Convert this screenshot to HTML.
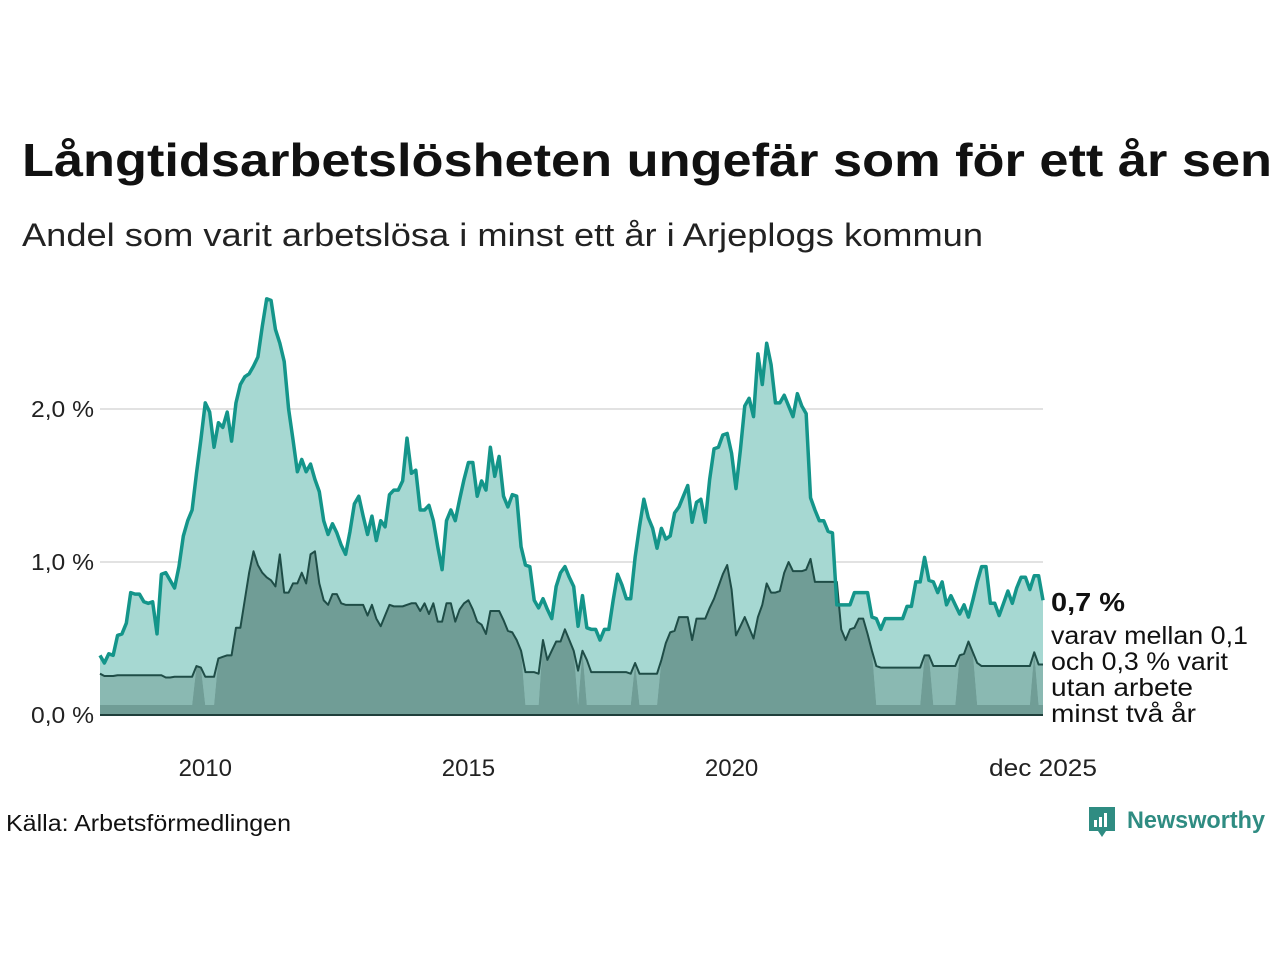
<!DOCTYPE html>
<html><head><meta charset="utf-8">
<style>
html,body{margin:0;padding:0;background:#fff;}
svg{display:block;font-family:"Liberation Sans",sans-serif;}
</style></head>
<body>
<svg id="chart" width="1280" height="960" viewBox="0 0 1280 960" xmlns="http://www.w3.org/2000/svg">
<text x="22" y="176" font-size="46" font-weight="bold" fill="#111" textLength="1250" lengthAdjust="spacingAndGlyphs">Långtidsarbetslösheten ungefär som för ett år sen</text>
<text x="22" y="246" font-size="32" fill="#222" textLength="961" lengthAdjust="spacingAndGlyphs">Andel som varit arbetslösa i minst ett år i Arjeplogs kommun</text>
<g id="grid"></g>
<g id="marks"></g>
<g id="axes"></g>
<text x="1051" y="611" font-size="26" font-weight="bold" fill="#111" textLength="74" lengthAdjust="spacingAndGlyphs">0,7 %</text>
<text font-size="25" fill="#111">
<tspan x="1051" y="644" textLength="197" lengthAdjust="spacingAndGlyphs">varav mellan 0,1</tspan>
<tspan x="1051" y="670" textLength="177" lengthAdjust="spacingAndGlyphs">och 0,3 % varit</tspan>
<tspan x="1051" y="696" textLength="142" lengthAdjust="spacingAndGlyphs">utan arbete</tspan>
<tspan x="1051" y="722" textLength="145" lengthAdjust="spacingAndGlyphs">minst två år</tspan>
</text>
<text x="6" y="831" font-size="23" fill="#111" textLength="285" lengthAdjust="spacingAndGlyphs">Källa: Arbetsförmedlingen</text>
<g>
<path d="M1089,807 h26 v24 h-9 l-4,6 l-4,-6 h-9 z" fill="#2f8c82"/>
<rect x="1094" y="820" width="3" height="7" fill="#fff"/>
<rect x="1099" y="817" width="3" height="10" fill="#fff"/>
<rect x="1104" y="813" width="3" height="14" fill="#fff"/>
<text x="1127" y="828" font-size="24" font-weight="bold" fill="#2f8c82" textLength="138" lengthAdjust="spacingAndGlyphs">Newsworthy</text>
</g>
</svg>
<script>
const tickValues=[0,1,2];
const tickLabels=["0,0 %","1,0 %","2,0 %"];
const xTickYears=[2010,2015,2020];
const xTickLabels=["2010","2015","2020"];
const total=[0.39,0.34,0.40,0.39,0.52,0.53,0.60,0.80,0.79,0.79,0.74,0.73,0.74,0.53,0.92,0.93,0.88,0.83,0.97,1.17,1.27,1.34,1.58,1.80,2.04,1.98,1.75,1.91,1.88,1.98,1.79,2.04,2.16,2.21,2.23,2.28,2.34,2.54,2.72,2.71,2.52,2.43,2.31,2.00,1.80,1.59,1.67,1.59,1.64,1.54,1.46,1.27,1.18,1.25,1.19,1.11,1.05,1.20,1.38,1.43,1.30,1.18,1.30,1.14,1.27,1.23,1.44,1.47,1.47,1.53,1.81,1.58,1.60,1.34,1.34,1.37,1.27,1.10,0.95,1.27,1.34,1.27,1.41,1.54,1.65,1.65,1.43,1.53,1.47,1.75,1.56,1.69,1.43,1.36,1.44,1.43,1.10,0.98,0.97,0.75,0.70,0.76,0.69,0.63,0.84,0.93,0.97,0.90,0.84,0.58,0.78,0.57,0.56,0.56,0.49,0.56,0.56,0.75,0.92,0.85,0.76,0.76,1.03,1.23,1.41,1.29,1.22,1.09,1.22,1.15,1.17,1.32,1.36,1.43,1.50,1.26,1.39,1.41,1.26,1.54,1.74,1.75,1.83,1.84,1.71,1.48,1.73,2.02,2.07,1.95,2.36,2.16,2.43,2.29,2.04,2.04,2.09,2.02,1.95,2.10,2.02,1.97,1.42,1.34,1.27,1.27,1.20,1.19,0.72,0.72,0.72,0.72,0.80,0.80,0.80,0.80,0.64,0.63,0.56,0.63,0.63,0.63,0.63,0.63,0.71,0.71,0.87,0.87,1.03,0.88,0.87,0.80,0.87,0.72,0.78,0.72,0.66,0.72,0.64,0.75,0.87,0.97,0.97,0.73,0.73,0.65,0.73,0.81,0.73,0.83,0.90,0.90,0.82,0.91,0.91,0.75];
const twoYrHigh=[0.27,0.255,0.255,0.255,0.26,0.26,0.26,0.26,0.26,0.26,0.26,0.26,0.26,0.26,0.26,0.245,0.245,0.25,0.25,0.25,0.25,0.25,0.32,0.31,0.25,0.25,0.25,0.37,0.38,0.39,0.39,0.57,0.57,0.75,0.93,1.07,0.98,0.93,0.90,0.88,0.84,1.05,0.80,0.80,0.86,0.86,0.93,0.86,1.05,1.07,0.86,0.75,0.72,0.79,0.79,0.73,0.72,0.72,0.72,0.72,0.72,0.65,0.72,0.63,0.58,0.65,0.72,0.71,0.71,0.71,0.72,0.73,0.73,0.68,0.73,0.66,0.73,0.61,0.61,0.73,0.73,0.61,0.69,0.73,0.75,0.69,0.61,0.59,0.53,0.68,0.68,0.68,0.62,0.55,0.54,0.49,0.42,0.28,0.28,0.28,0.27,0.49,0.36,0.42,0.48,0.48,0.56,0.49,0.42,0.29,0.42,0.36,0.28,0.28,0.28,0.28,0.28,0.28,0.28,0.28,0.28,0.27,0.34,0.27,0.27,0.27,0.27,0.27,0.36,0.47,0.54,0.55,0.64,0.64,0.64,0.49,0.63,0.63,0.63,0.70,0.76,0.84,0.92,0.98,0.82,0.52,0.58,0.64,0.57,0.50,0.64,0.72,0.86,0.80,0.80,0.81,0.93,1.00,0.94,0.94,0.94,0.95,1.02,0.87,0.87,0.87,0.87,0.87,0.87,0.56,0.49,0.56,0.57,0.63,0.63,0.53,0.42,0.32,0.31,0.31,0.31,0.31,0.31,0.31,0.31,0.31,0.31,0.31,0.39,0.39,0.32,0.32,0.32,0.32,0.32,0.32,0.39,0.40,0.48,0.41,0.34,0.32,0.32,0.32,0.32,0.32,0.32,0.32,0.32,0.32,0.32,0.32,0.32,0.41,0.33,0.33];
const twoYrLow=[0.065,0.065,0.065,0.065,0.065,0.065,0.065,0.065,0.065,0.065,0.065,0.065,0.065,0.065,0.065,0.065,0.065,0.065,0.065,0.065,0.065,0.065,0.32,0.31,0.065,0.065,0.065,0.37,0.38,0.39,0.39,0.57,0.57,0.75,0.93,1.07,0.98,0.93,0.90,0.88,0.84,1.05,0.80,0.80,0.86,0.86,0.93,0.86,1.05,1.07,0.86,0.75,0.72,0.79,0.79,0.73,0.72,0.72,0.72,0.72,0.72,0.65,0.72,0.63,0.58,0.65,0.72,0.71,0.71,0.71,0.72,0.73,0.73,0.68,0.73,0.66,0.73,0.61,0.61,0.73,0.73,0.61,0.69,0.73,0.75,0.69,0.61,0.59,0.53,0.68,0.68,0.68,0.62,0.55,0.54,0.49,0.42,0.065,0.065,0.065,0.065,0.49,0.36,0.42,0.48,0.48,0.56,0.49,0.42,0.065,0.42,0.065,0.065,0.065,0.065,0.065,0.065,0.065,0.065,0.065,0.065,0.065,0.34,0.065,0.065,0.065,0.065,0.065,0.36,0.47,0.54,0.55,0.64,0.64,0.64,0.49,0.63,0.63,0.63,0.70,0.76,0.84,0.92,0.98,0.82,0.52,0.58,0.64,0.57,0.50,0.64,0.72,0.86,0.80,0.80,0.81,0.93,1.00,0.94,0.94,0.94,0.95,1.02,0.87,0.87,0.87,0.87,0.87,0.87,0.56,0.49,0.56,0.57,0.63,0.63,0.53,0.42,0.065,0.065,0.065,0.065,0.065,0.065,0.065,0.065,0.065,0.065,0.065,0.39,0.39,0.065,0.065,0.065,0.065,0.065,0.065,0.39,0.40,0.48,0.41,0.065,0.065,0.065,0.065,0.065,0.065,0.065,0.065,0.065,0.065,0.065,0.065,0.065,0.41,0.065,0.065];

const NS="http://www.w3.org/2000/svg";
const x0=100,x1=1043,y0=715,pxPer=153;
const n=total.length;
function xScale(i){return x0+(x1-x0)*i/(n-1);}
function yScale(v){return y0-v*pxPer;}
function xYear(yr){return xScale((yr-2008)*12);}
function mk(tag,attrs,parent){const e=document.createElementNS(NS,tag);for(const k in attrs)e.setAttribute(k,attrs[k]);parent.appendChild(e);return e;}
function linePts(arr){return arr.map((v,i)=>xScale(i).toFixed(2)+","+yScale(v).toFixed(2)).join(" L");}
function areaPath(top,bottom){
  let d="M"+linePts(top);
  for(let i=n-1;i>=0;i--){d+=" L"+xScale(i).toFixed(2)+","+(bottom?yScale(bottom[i]):y0).toFixed(2);}
  return d+" Z";
}
const grid=document.getElementById('grid');
const marks=document.getElementById('marks');
const axes=document.getElementById('axes');
tickValues.forEach((v,k)=>{
  if(v>0){
    const g=mk('line',{x1:x0,x2:x1,y1:yScale(v),y2:yScale(v),stroke:'#e2e2e2','stroke-width':2},grid);
    
    
  }
  const t=mk('text',{x:94,y:yScale(v)+8,'font-size':23,fill:'#222','text-anchor':'end',textLength:63,lengthAdjust:'spacingAndGlyphs'},axes);
  t.textContent=tickLabels[k];
  
  
});
xTickYears.forEach((yr,k)=>{
  const t=mk('text',{x:xYear(yr),y:776,'font-size':24,fill:'#222','text-anchor':'middle'},axes);
  t.textContent=xTickLabels[k];
  
  
});
const tl=mk('text',{x:x1,y:776,'font-size':24,fill:'#222','text-anchor':'middle',textLength:108,lengthAdjust:'spacingAndGlyphs'},axes);
tl.textContent="dec 2025";



const a1=mk('path',{d:areaPath(total),fill:'#a6d8d2'},marks);


const a2=mk('path',{d:areaPath(twoYrHigh,twoYrLow),fill:'#8ab9b2'},marks);


const a3=mk('path',{d:areaPath(twoYrLow),fill:'#709d96'},marks);


const l2=mk('path',{d:"M"+linePts(twoYrHigh),fill:'none',stroke:'#1f4d47','stroke-width':2,'stroke-linejoin':'round'},marks);


const l1=mk('path',{d:"M"+linePts(total),fill:'none',stroke:'#14958a','stroke-width':3.5,'stroke-linejoin':'round'},marks);


const base=mk('line',{x1:x0,x2:x1,y1:y0,y2:y0,stroke:'#1f3f3b','stroke-width':2},marks);


</script>
</body></html>
